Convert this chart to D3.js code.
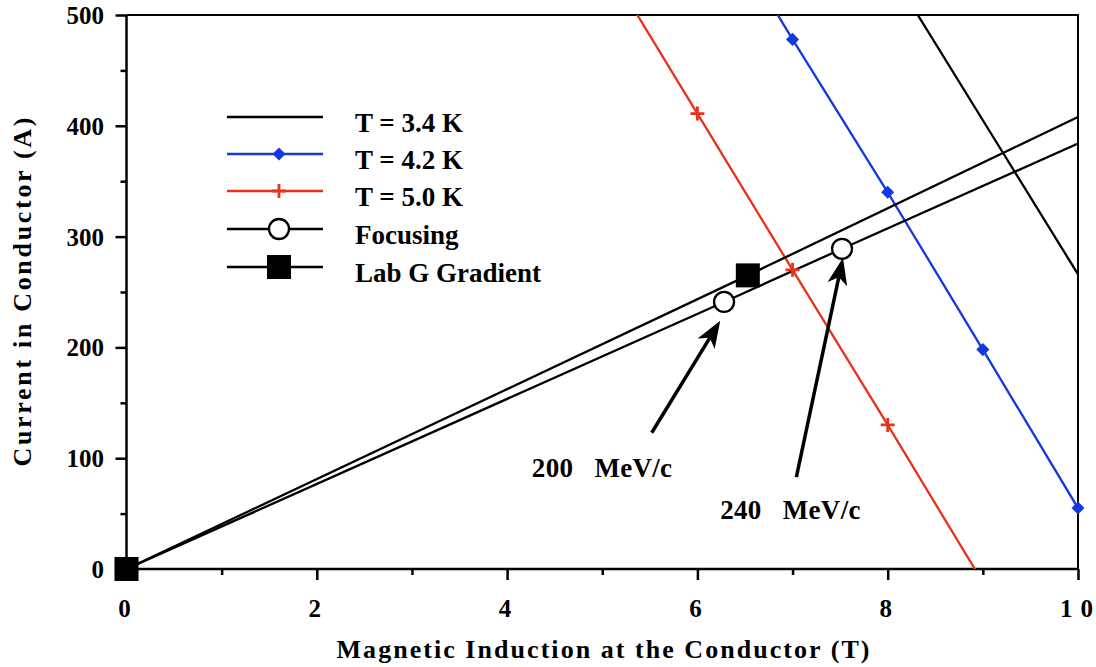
<!DOCTYPE html>
<html>
<head>
<meta charset="utf-8">
<script src="https://cdn.jsdelivr.net/npm/d3@7"></script>
<style>
  body { margin: 0; background: #fff; }
  text { font-family: "Liberation Serif", "Times New Roman", serif; font-weight: bold; fill: #000; }
</style>
</head>
<body>
<div id="chart"></div>
<script>
// values
const b34 = [8, 9, 10];
const i34 = [544, 405, 266];

const b42 = [6, 7, 8, 9, 10];
const i42 = [620, 478, 340, 198, 55];

const b50 = [5, 6, 7, 8, 9];
const i50 = [552, 411, 270, 130, -12];

const bFocus = [0, 6.28, 7.52, 10];
const iFocus = [0, 241, 289, 384];
const focusMarks = [true, true, true, false];

const bLabG = [0, 6.53, 10];
const iLabG = [0, 265, 408];
const labGMarks = [true, true, false];

const xTicks = [0, 2, 4, 6, 8, 10];
const xMinor = [1, 3, 5, 7, 9];
const yTicks = [0, 100, 200, 300, 400, 500];
const yMinor = [50, 150, 250, 350, 450];

const legendLabels = ["T = 3.4 K", "T = 4.2 K", "T = 5.0 K", "Focusing", "Lab G Gradient"];

// arrows: [fromB, fromI, toB, toI]
const arrows = [[5.52, 123, 6.24, 224], [7.04, 83, 7.53, 281]];
const notes = [{ b: 4.26, i: 83, text: "200   MeV/c" }, { b: 6.24, i: 45, text: "240   MeV/c" }];

const BLUE = "#1238e0", RED = "#e8321a";

const width = 1096, height = 667;
const svg = d3.select("#chart").append("svg").attr("width", width).attr("height", height);

const x = d3.scaleLinear().domain([0, 10]).range([126.5, 1078]);
const y = d3.scaleLinear().domain([0, 500]).range([569, 15]);

svg.append("clipPath").attr("id", "plot").append("rect")
  .attr("x", x(0)).attr("y", y(500)).attr("width", x(10) - x(0)).attr("height", y(0) - y(500));

const line = d3.line().x(d => x(d[0])).y(d => y(d[1]));
const zip = (a, b) => a.map((v, k) => [v, b[k]]);
const inside = d => d[0] >= 0 && d[0] <= 10 && d[1] >= 0 && d[1] <= 500;

// frame top/right
svg.append("path").attr("d", `M${x(0)},${y(500)}H${x(10)}V${y(0)}`)
  .attr("fill", "none").attr("stroke", "#000").attr("stroke-width", 2);

// axes
const xAxis = svg.append("g").attr("transform", `translate(0,${y(0)})`)
  .call(d3.axisBottom(x).tickValues(xTicks).tickSize(11).tickFormat(""));
svg.append("g").attr("transform", `translate(0,${y(0)})`)
  .call(d3.axisBottom(x).tickValues(xMinor).tickSize(6).tickFormat(""))
  .select(".domain").remove();
const yAxis = svg.append("g").attr("transform", `translate(${x(0)},0)`)
  .call(d3.axisLeft(y).tickValues(yTicks).tickSize(11).tickFormat(""));
svg.append("g").attr("transform", `translate(${x(0)},0)`)
  .call(d3.axisLeft(y).tickValues(yMinor).tickSize(6).tickFormat(""))
  .select(".domain").remove();
svg.selectAll(".domain").attr("stroke-width", 2.5);
xAxis.select(".domain").attr("d", `M${x(0)},0H${x(10)}`);
yAxis.select(".domain").attr("d", `M0,${y(0)}V${y(500)}`);
svg.selectAll(".tick line").attr("stroke-width", 2.5);

svg.selectAll(".xlab").data(xTicks).join("text")
  .attr("x", d => d === 10 ? x(d) - 18 : x(d) - 2).attr("y", 617)
  .attr("text-anchor", d => d === 10 ? "start" : "middle").attr("font-size", 25)
  .each(function (d) { if (d === 10) d3.select(this).attr("textLength", 33).attr("lengthAdjust", "spacing"); })
  .text(d => d);
svg.selectAll(".ylab").data(yTicks).join("text")
  .attr("x", 104).attr("y", d => y(d) + 9)
  .attr("text-anchor", "end").attr("font-size", 25)
  .text(d => d);

svg.append("text").attr("x", 603).attr("y", 658).attr("text-anchor", "middle")
  .attr("font-size", 26).attr("textLength", 533).attr("lengthAdjust", "spacing")
  .text("Magnetic Induction at the Conductor (T)");
svg.append("text").attr("transform", "translate(31,292) rotate(-90)").attr("text-anchor", "middle")
  .attr("font-size", 26).attr("textLength", 349).attr("lengthAdjust", "spacing")
  .text("Current in Conductor (A)");

// series
const plot = svg.append("g").attr("clip-path", "url(#plot)");
const series = [
  { pts: zip(b34, i34), color: "#000" },
  { pts: zip(b42, i42), color: BLUE },
  { pts: zip(b50, i50), color: RED },
  { pts: zip(bFocus, iFocus), color: "#000" },
  { pts: zip(bLabG, iLabG), color: "#000" }
];
series.forEach(s => {
  plot.append("path").datum(s.pts).attr("fill", "none").attr("stroke", s.color)
    .attr("stroke-width", 2.3).attr("d", line);
});

const diamond = d3.symbol().type(d3.symbolSquare).size(85);
const drawDiamond = (g, cx, cy) => g.append("path").attr("d", diamond())
  .attr("transform", `translate(${cx},${cy}) rotate(45)`).attr("fill", BLUE);
const drawPlus = (g, cx, cy) => g.append("path")
  .attr("d", `M${cx - 7},${cy}H${cx + 7}M${cx},${cy - 7}V${cy + 7}`)
  .attr("stroke", RED).attr("stroke-width", 2.8);
const drawCircle = (g, cx, cy) => g.append("circle").attr("cx", cx).attr("cy", cy).attr("r", 10)
  .attr("fill", "#fff").attr("stroke", "#000").attr("stroke-width", 2.3);
const drawSquare = (g, cx, cy) => g.append("rect").attr("x", cx - 12).attr("y", cy - 12)
  .attr("width", 24).attr("height", 24).attr("fill", "#000");

const marks = svg.append("g");
zip(b42, i42).filter(inside).forEach(d => drawDiamond(marks, x(d[0]), y(d[1])));
zip(b50, i50).filter(inside).forEach(d => drawPlus(marks, x(d[0]), y(d[1])));
zip(bFocus, iFocus).filter((d, k) => focusMarks[k]).forEach(d => drawCircle(marks, x(d[0]), y(d[1])));
zip(bLabG, iLabG).filter((d, k) => labGMarks[k]).forEach(d => drawSquare(marks, x(d[0]), y(d[1])));

// arrows
arrows.forEach(([b0, i0, b1, i1]) => {
  const x0 = x(b0), y0 = y(i0), x1 = x(b1), y1 = y(i1);
  const len = Math.hypot(x1 - x0, y1 - y0);
  const ux = (x1 - x0) / len, uy = (y1 - y0) / len;
  const px = -uy, py = ux;
  const hl = 27, hw = 10;
  const bx = x1 - ux * hl, by = y1 - uy * hl;
  const nx = x1 - ux * (hl - 7), ny = y1 - uy * (hl - 7);
  svg.append("line").attr("x1", x0).attr("y1", y0).attr("x2", nx).attr("y2", ny)
    .attr("stroke", "#000").attr("stroke-width", 3.5);
  svg.append("path")
    .attr("d", `M${x1},${y1}L${bx + px * hw},${by + py * hw}L${nx},${ny}L${bx - px * hw},${by - py * hw}Z`)
    .attr("fill", "#000");
});
notes.forEach(n => {
  svg.append("text").attr("x", x(n.b)).attr("y", y(n.i)).attr("font-size", 27)
    .style("white-space", "pre").style("letter-spacing", "0.3px").text(n.text);
});

// legend
const rows = [117, 154, 191, 229, 267];
const lg = svg.append("g");
legendLabels.forEach((lab, k) => {
  const ry = rows[k];
  const col = k === 1 ? BLUE : k === 2 ? RED : "#000";
  lg.append("line").attr("x1", 227).attr("x2", 323).attr("y1", ry).attr("y2", ry)
    .attr("stroke", col).attr("stroke-width", 2.3);
  if (k === 1) drawDiamond(lg, 279, ry);
  if (k === 2) drawPlus(lg, 279, ry);
  if (k === 3) drawCircle(lg, 279, ry);
  if (k === 4) drawSquare(lg, 279, ry);
  lg.append("text").attr("x", 355).attr("y", ry + 15).attr("font-size", 27).text(lab);
});
</script>
</body>
</html>
